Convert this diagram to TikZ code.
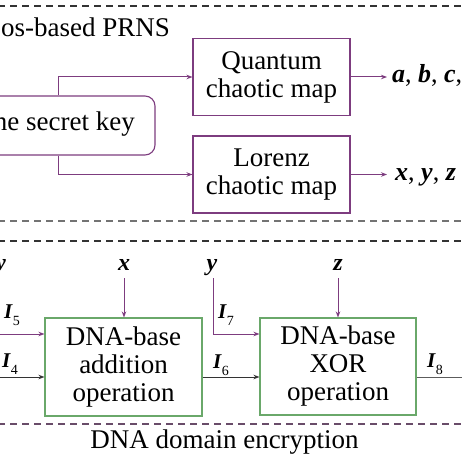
\documentclass[tikz,border=0pt]{standalone}
\usepackage{fontspec}
\setmainfont{Liberation Serif}
\newfontfamily\tms{Liberation Serif}
\usetikzlibrary{arrows.meta}
\definecolor{pur}{HTML}{7D3C7F}
\definecolor{grn}{HTML}{6AA86A}
\definecolor{dk}{HTML}{333333}
\newcommand\bi[1]{\textbf{\textit{#1}}}
\newcommand\Iv[1]{{\fontsize{21}{21}\selectfont\bi{I}}\raisebox{-7pt}{\fontsize{14}{14}\selectfont #1}}
\begin{document}
\begin{tikzpicture}[x=1pt,y=-1pt,
  every node/.style={font=\tms\fontsize{27}{28}\selectfont, inner sep=0pt},
  pbox/.style={draw=pur, line width=1.1pt, align=center},
  gbox/.style={draw=grn, line width=1.1pt, align=center},
  parrow/.style={draw=pur, line width=1pt, -{Stealth[length=6pt,width=4.5pt]}},
  barrow/.style={draw=dk, line width=1pt, -{Stealth[length=6pt,width=4.5pt]}},
  gline/.style={draw=dk!80, line width=1pt},
  dash1/.style={line width=1.4pt, dash pattern=on 7pt off 5pt},
  lab/.style={font=\tms\fontsize{24}{24}\selectfont, anchor=base},
  outl/.style={font=\tms\fontsize{26}{26}\selectfont, anchor=base west}]
\useasboundingbox (0,0) rectangle (462,462);
\clip (0,0) rectangle (462,462);
\fill[white] (0,0) rectangle (462,462);
% dashed separators
\draw[dash1, draw=dk] (-2,6) -- (464,6);
\draw[dash1, draw=black!55] (-2,221) -- (464,221);
\draw[dash1, draw=dk] (-2,241) -- (464,241);
\draw[dash1, draw=black!45!violet!40!gray] (-2,424) -- (464,424);
% top section
\node[anchor=base east] (title) at (170,37) {os-based PRNS};
\node[draw=pur, line width=1.1pt, rounded corners=10pt, minimum width=255pt, minimum height=59pt] (key) at (27.5,125.5) {};
\node[anchor=base east] (keytxt) at (135,131) {ne secret key};
\node[pbox, minimum width=157pt, minimum height=77pt] (qcm) at (271.5,77) {Quantum\\chaotic map};
\node[pbox, minimum width=157pt, minimum height=77pt] (lcm) at (271.5,174.5) {Lorenz\\chaotic map};
\coordinate (kx) at (58,0);
\draw[parrow] (key.north -| kx) |- (qcm.west);
\draw[parrow] (key.south -| kx) |- (lcm.west);
\node[outl] (abcd) at (392,83) {\bi{a}, \bi{b}, \bi{c}, \bi{d}};
\node[outl] (xyz) at (395,181) {\bi{x}, \bi{y}, \bi{z}};
\coordinate (qe) at (387,77);
\coordinate (le) at (387,174.5);
\draw[parrow] (qcm.east) -- (qe);
\draw[parrow] (lcm.east) -- (le);
% bottom section
\node[gbox, minimum width=157pt, minimum height=98pt] (add) at (123.5,367) {DNA-base\\addition\\operation};
\node[gbox, minimum width=156pt, minimum height=97pt] (xor) at (338,366.5) {DNA-base\\XOR\\operation};
\node[lab] (wl) at (-2,270) {\bi{w}};
\node[lab] (xl) at (124,270) {\bi{x}};
\node[lab] (yl) at (212,270) {\bi{y}};
\node[lab] (zl) at (338,270) {\bi{z}};
\coordinate (xs) at (124,278);
\coordinate (ys) at (213,278);
\coordinate (zs) at (338,278);
\coordinate (i5s) at (-5,334);
\coordinate (i4s) at (-5,377);
\coordinate (oe) at (470,377);
\draw[parrow] (xs) -- (xs |- add.north);
\draw[parrow] (zs) -- (zs |- xor.north);
\draw[parrow] (i5s) -- (i5s -| add.west);
\draw[barrow] (i4s) -- (i4s -| add.west);
\draw[barrow] (add.east |- i4s) -- (xor.west |- i4s);
\draw[parrow] (ys) |- (xor.west |- i5s);
\draw[gline] (xor.east |- oe) -- (oe);
\node[anchor=base west] (i5) at (4,318) {\Iv{5}};
\node[anchor=base west] (i4) at (2,367) {\Iv{4}};
\node[anchor=base west] (i6) at (213,368) {\Iv{6}};
\node[anchor=base west] (i7) at (218,318) {\Iv{7}};
\node[anchor=base west] (i8) at (427,367) {\Iv{8}};
\node[anchor=base] (cap) at (224.5,448) {DNA domain encryption};
\end{tikzpicture}
\end{document}
